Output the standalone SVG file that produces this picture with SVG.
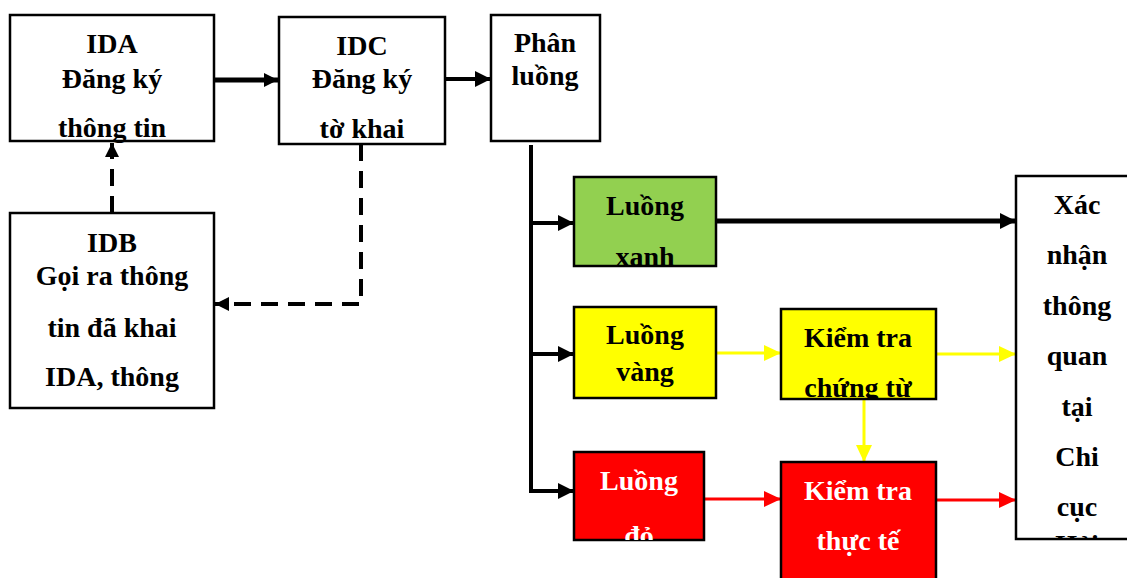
<svg xmlns="http://www.w3.org/2000/svg" width="1127" height="578" viewBox="0 0 1127 578">
<style>
.box{stroke:#000;stroke-width:2.5}
.t{font-family:"Liberation Serif","Times New Roman",serif;font-weight:bold;font-size:28px;text-anchor:middle;fill:#000}
.w{fill:#fff}
.k{fill:none;stroke:#000}
.y{fill:none;stroke:#ffff00;stroke-width:3}
.r{fill:none;stroke:#ff0000;stroke-width:3}
.d{fill:none;stroke:#000;stroke-width:4;stroke-dasharray:17 10}
</style>
<defs>
<marker id="ak" markerUnits="userSpaceOnUse" markerWidth="16" markerHeight="16" refX="16" refY="8" orient="auto"><path d="M0,0L16,8L0,16z" fill="#000"/></marker>
<marker id="aks" markerUnits="userSpaceOnUse" markerWidth="14" markerHeight="14" refX="14" refY="7" orient="auto"><path d="M0,0L14,7L0,14z" fill="#000"/></marker>
<marker id="ay" markerUnits="userSpaceOnUse" markerWidth="17" markerHeight="16" refX="17" refY="8" orient="auto"><path d="M0,0L17,8L0,16z" fill="#ffff00"/></marker>
<marker id="ar" markerUnits="userSpaceOnUse" markerWidth="17" markerHeight="16" refX="17" refY="8" orient="auto"><path d="M0,0L17,8L0,16z" fill="#ff0000"/></marker>
<clipPath id="cXanh"><rect x="574" y="177" width="142" height="89"/></clipPath>
<clipPath id="cCT"><rect x="781" y="309" width="155" height="90"/></clipPath>
<clipPath id="cDo"><rect x="574" y="452" width="130" height="88"/></clipPath>
<clipPath id="cXN"><rect x="1016" y="176" width="120" height="363"/></clipPath>
</defs>

<g id="connectors">
<line class="k" x1="214" y1="80" x2="278" y2="80" stroke-width="5" marker-end="url(#aks)"/>
<line class="k" x1="445" y1="79" x2="491" y2="79" stroke-width="4" marker-end="url(#ak)"/>
<path class="d" d="M112,213V143" marker-end="url(#aks)"/>
<path class="d" d="M361,144V304H215" marker-end="url(#aks)"/>
<path class="k" stroke-width="4" d="M531,145V491H574" marker-end="url(#ak)"/>
<line class="k" x1="531" y1="223" x2="574" y2="223" stroke-width="4" marker-end="url(#ak)"/>
<line class="k" x1="531" y1="354" x2="574" y2="354" stroke-width="4" marker-end="url(#ak)"/>
<line class="k" x1="716" y1="221" x2="1016" y2="221" stroke-width="5" marker-end="url(#ak)"/>
<line class="y" x1="716" y1="353" x2="781" y2="353" marker-end="url(#ay)"/>
<line class="y" x1="936" y1="354" x2="1016" y2="354" marker-end="url(#ay)"/>
<line class="y" x1="864" y1="399" x2="864" y2="462" marker-end="url(#ay)"/>
<line class="r" x1="704" y1="499" x2="781" y2="499" marker-end="url(#ar)"/>
<line class="r" x1="936" y1="500" x2="1016" y2="500" marker-end="url(#ar)"/>
</g>

<g id="ida">
<rect class="box" x="10" y="15" width="204" height="126" fill="#fff"/>
<text class="t" x="112" y="53">IDA</text>
<text class="t" x="112" y="88">Đăng ký</text>
<text class="t" x="112" y="137">thông tin</text>
</g>

<g id="idc">
<rect class="box" x="279" y="17" width="166" height="127" fill="#fff"/>
<text class="t" x="362" y="55">IDC</text>
<text class="t" x="362" y="88">Đăng ký</text>
<text class="t" x="362" y="138">tờ khai</text>
</g>

<g id="phanluong">
<rect class="box" x="491" y="15" width="109" height="126" fill="#fff"/>
<text class="t" x="545" y="52">Phân</text>
<text class="t" x="545" y="85">luồng</text>
</g>

<g id="idb">
<rect class="box" x="10" y="213" width="204" height="195" fill="#fff"/>
<text class="t" x="112" y="252">IDB</text>
<text class="t" x="112" y="285">Gọi ra thông</text>
<text class="t" x="112" y="337">tin đã khai</text>
<text class="t" x="112" y="386">IDA, thông</text>
</g>

<g id="luongxanh">
<rect class="box" x="574" y="177" width="142" height="89" fill="#92d050"/>
<g clip-path="url(#cXanh)">
<text class="t" x="645" y="215">Luồng</text>
<text class="t" x="645" y="266">xanh</text>
</g>
</g>

<g id="luongvang">
<rect class="box" x="574" y="307" width="142" height="91" fill="#ffff00"/>
<text class="t" x="645" y="344">Luồng</text>
<text class="t" x="645" y="381">vàng</text>
</g>

<g id="kiemtrachungtu">
<rect class="box" x="781" y="309" width="155" height="90" fill="#ffff00"/>
<g clip-path="url(#cCT)">
<text class="t" x="858" y="347">Kiểm tra</text>
<text class="t" x="858" y="397">chứng từ</text>
</g>
</g>

<g id="luongdo">
<rect class="box" x="574" y="452" width="130" height="88" fill="#ff0000"/>
<g clip-path="url(#cDo)">
<text class="t w" x="639" y="490">Luồng</text>
<text class="t w" x="639" y="545">đỏ</text>
</g>
</g>

<g id="kiemtrathucte">
<rect class="box" x="781" y="462" width="155" height="130" fill="#ff0000"/>
<text class="t w" x="858" y="500">Kiểm tra</text>
<text class="t w" x="858" y="550">thực tế</text>
</g>

<g id="xacnhan">
<rect class="box" x="1016" y="176" width="120" height="363" fill="#fff"/>
<g clip-path="url(#cXN)">
<text class="t" x="1077" y="214">Xác</text>
<text class="t" x="1077" y="264">nhận</text>
<text class="t" x="1077" y="315">thông</text>
<text class="t" x="1077" y="365">quan</text>
<text class="t" x="1077" y="416">tại</text>
<text class="t" x="1077" y="466">Chi</text>
<text class="t" x="1077" y="516">cục</text>
<text class="t" x="1077" y="554">Hải</text>
</g>
</g>
</svg>
